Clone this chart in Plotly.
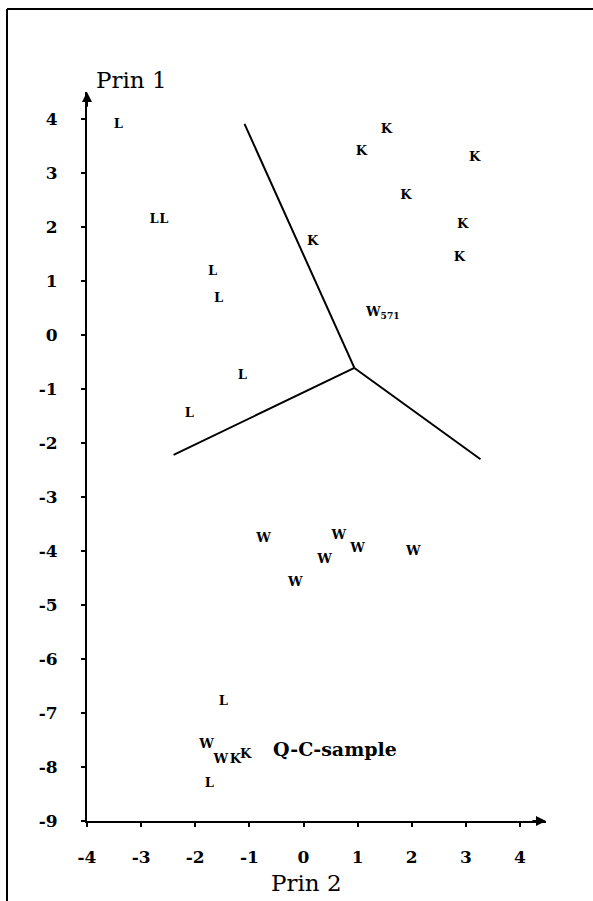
import plotly.graph_objects as go

# ---- data ----
L_x = [-3.42, -2.76, -2.58, -1.68, -1.57, -1.13, -2.11, -1.48, -1.74]
L_y = [3.89, 2.13, 2.13, 1.18, 0.67, -0.76, -1.46, -6.80, -8.31]

K_x = [1.53, 1.07, 3.16, 1.89, 2.94, 2.88, 0.17, -1.26, -1.07]
K_y = [3.80, 3.39, 3.28, 2.57, 2.04, 1.43, 1.72, -7.87, -7.78]

W_x = [-0.74, 0.65, 1.00, 2.03, 0.39, -0.15, -1.79, -1.53]
W_y = [-3.78, -3.72, -3.96, -4.02, -4.17, -4.59, -7.59, -7.87]

outlier_x = [1.24]
outlier_y = [0.41]
outlier_label = ["W<sub>571</sub>"]

# decision boundaries: junction point and the three end points
junction = (0.94, -0.61)
boundary_ends_x = [-1.09, -2.40, 3.27]
boundary_ends_y = [3.91, -2.22, -2.30]

x_ticks = [-4, -3, -2, -1, 0, 1, 2, 3, 4]
y_ticks = [4, 3, 2, 1, 0, -1, -2, -3, -4, -5, -6, -7, -8, -9]

x_title = "Prin 2"
y_title = "Prin 1"
sample_label = "Q-C-sample"
sample_pos = (0.58, -7.67)

# ---- figure ----
SERIF = "DejaVu Serif"
letter_font = dict(family=SERIF, size=13, color="black", weight="bold")

fig = go.Figure()

# boundary lines
bx, by = [], []
for ex, ey in zip(boundary_ends_x, boundary_ends_y):
    bx += [junction[0], ex, None]
    by += [junction[1], ey, None]
fig.add_trace(go.Scatter(x=bx, y=by, mode="lines",
                         line=dict(color="black", width=2),
                         hoverinfo="skip", showlegend=False))

for xs, ys, letter in [(L_x, L_y, "L"), (K_x, K_y, "K"), (W_x, W_y, "W")]:
    fig.add_trace(go.Scatter(x=xs, y=ys, mode="text", text=[letter] * len(xs),
                             textposition="middle center", textfont=letter_font,
                             cliponaxis=False, showlegend=False))

annotations = []
for ox, oy, lab in zip(outlier_x, outlier_y, outlier_label):
    annotations.append(dict(x=ox, y=oy, xref="x", yref="y", text=lab, showarrow=False,
                            xanchor="left", yanchor="middle", xshift=-8,
                            font=letter_font))

annotations.append(dict(x=sample_pos[0], y=sample_pos[1], xref="x", yref="y",
                        text=sample_label, showarrow=False,
                        font=dict(family=SERIF, size=19, color="black", weight="bold")))

# axis titles
annotations.append(dict(x=0.0153, y=1.0165, xref="paper", yref="paper", text=y_title,
                        showarrow=False, xanchor="left", yanchor="middle",
                        font=dict(family=SERIF, size=23, color="black")))
annotations.append(dict(x=0.478, y=-0.085, xref="paper", yref="paper", text=x_title,
                        showarrow=False, xanchor="center", yanchor="middle",
                        font=dict(family=SERIF, size=23, color="black")))

# axis arrows
annotations.append(dict(x=4.48, y=-9, ax=4.2, ay=-9, xref="x", yref="y", axref="x", ayref="y",
                        text="", showarrow=True, arrowhead=2, arrowsize=1, arrowwidth=2,
                        arrowcolor="black"))
annotations.append(dict(x=-4, y=4.5, ax=-4, ay=4.2, xref="x", yref="y", axref="x", ayref="y",
                        text="", showarrow=True, arrowhead=2, arrowsize=1, arrowwidth=2,
                        arrowcolor="black"))

tick_font = dict(family=SERIF, size=17, color="black", weight="bold")

fig.update_layout(
    width=593, height=901,
    margin=dict(l=87, r=47, t=92, b=80),
    paper_bgcolor="white", plot_bgcolor="white",
    showlegend=False,
    annotations=annotations,
    shapes=[
        dict(type="line", xref="paper", yref="paper", x0=-0.1743, x1=1.11, y0=1.1139, y1=1.1139,
             line=dict(color="black", width=2)),
        dict(type="line", xref="paper", yref="paper", x0=-0.1743, x1=-0.1743, y0=1.1139, y1=-0.11,
             line=dict(color="black", width=2)),
    ],
    xaxis=dict(range=[-4, 4.48], tickmode="array", tickvals=x_ticks,
               ticktext=[str(v) for v in x_ticks], showgrid=False, zeroline=False,
               showline=True, linecolor="black", linewidth=2,
               ticks="outside", ticklen=4, tickwidth=1.5, tickcolor="black",
               tickfont=tick_font, ticklabelstandoff=16),
    yaxis=dict(range=[-9, 4.5], tickmode="array", tickvals=y_ticks,
               ticktext=[str(v) for v in y_ticks], showgrid=False, zeroline=False,
               showline=True, linecolor="black", linewidth=2,
               ticks="outside", ticklen=4, tickwidth=1.5, tickcolor="black",
               tickfont=tick_font, ticklabelstandoff=20),
)

fig.write_html("out.html", post_script="document.body.style.margin='0px';",
               config={"displayModeBar": False})
